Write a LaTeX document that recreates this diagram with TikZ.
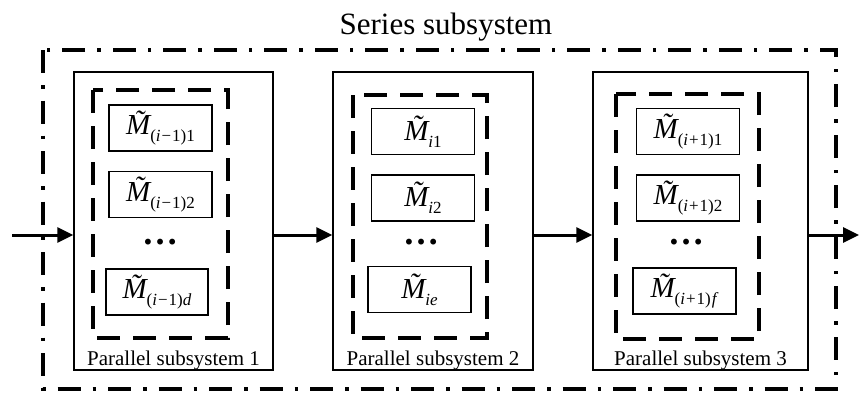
\documentclass[tikz,border=0pt]{standalone}
\usepackage{fontspec}
\setmainfont{Liberation Serif}
\usetikzlibrary{arrows.meta}

\newcommand{\Mt}[1]{{\fontsize{29}{29}\selectfont\itshape\~M}\raisebox{-7pt}{\fontsize{17}{17}\selectfont #1}}

\tikzset{
  parbox/.style={draw, line width=1.3pt, minimum height=298pt},
  dashbox/.style={line width=3.6pt, dash pattern=on 23pt off 13pt},
  unitbox/.style={draw, line width=1.3pt, minimum width=103pt, minimum height=46pt, inner sep=0pt},
  outerbox/.style={line width=3.6pt, dash pattern=on 23pt off 12pt on 3.5pt off 12pt},
  flow/.style={-{Triangle[length=16pt,width=15pt]}, line width=3pt},
  lab/.style={font=\fontsize{21}{21}\selectfont, anchor=base, inner sep=0pt},
  dots/.style={font=\fontsize{36}{36}\selectfont\bfseries, inner sep=0pt}
}

\begin{document}
\begin{tikzpicture}[x=1pt, y=-1pt]
\useasboundingbox (0,0) rectangle (859,394);

% series subsystem
\draw[outerbox] (43,50) rectangle (836,389);
\node[font=\fontsize{31}{31}\selectfont, anchor=base, inner sep=0pt] (title) at (446,34) {Series subsystem};

% parallel subsystems
\node[parbox, minimum width=199pt] (par1) at (173.5,221) {};
\node[parbox, minimum width=200pt] (par2) at (433,221) {};
\node[parbox, minimum width=215pt] (par3) at (700.5,221) {};
\node[lab] (lab1) at ([yshift=5pt]par1.south) {Parallel subsystem 1};
\node[lab] (lab2) at ([yshift=5pt]par2.south) {Parallel subsystem 2};
\node[lab] (lab3) at ([yshift=5pt]par3.south) {Parallel subsystem 3};

\draw[dashbox] (93,90) rectangle (228,338);
\draw[dashbox] (353,95) rectangle (487,338);
\draw[dashbox] (616,94) rectangle (759,339);

% units
\node[unitbox] (u11) at (160.5,128) {\Mt{(\textit{i}\kern1pt−\kern1pt1)1}};
\node[unitbox] (u12) at (160.5,194.5) {\Mt{(\textit{i}\kern1pt−\kern1pt1)2}};
\node[dots] (d1) at (160,242) {…};
\node[unitbox, minimum width=102pt] (u1d) at (157,292) {\Mt{(\textit{i}\kern1pt−\kern1pt1)\textit{d}}};

\node[unitbox] (u21) at (423,131.5) {\Mt{\textit{i}1}};
\node[unitbox] (u22) at (423,198) {\Mt{\textit{i}2}};
\node[dots] (d2) at (421,242) {…};
\node[unitbox] (u2e) at (419.5,289.5) {\Mt{\textit{ie}}};

\node[unitbox] (u31) at (688,131.5) {\Mt{(\textit{i}\kern1pt+\kern1pt1)1}};
\node[unitbox] (u32) at (688,198) {\Mt{(\textit{i}\kern1pt+\kern1pt1)2}};
\node[dots] (d3) at (686,242) {…};
\node[unitbox] (u3f) at (684.5,291) {\Mt{(\textit{i}\kern1pt+\kern1pt1)\kern1pt\textit{f}}};

% flow
\coordinate (src) at (12,235);
\coordinate (snk) at (859,235);
\draw[flow] (src) -- (src -| par1.west);
\draw[flow] (par1.east |- src) -- (par2.west |- src);
\draw[flow] (par2.east |- src) -- (par3.west |- src);
\draw[flow] (par3.east |- src) -- (snk);
\end{tikzpicture}
\end{document}
